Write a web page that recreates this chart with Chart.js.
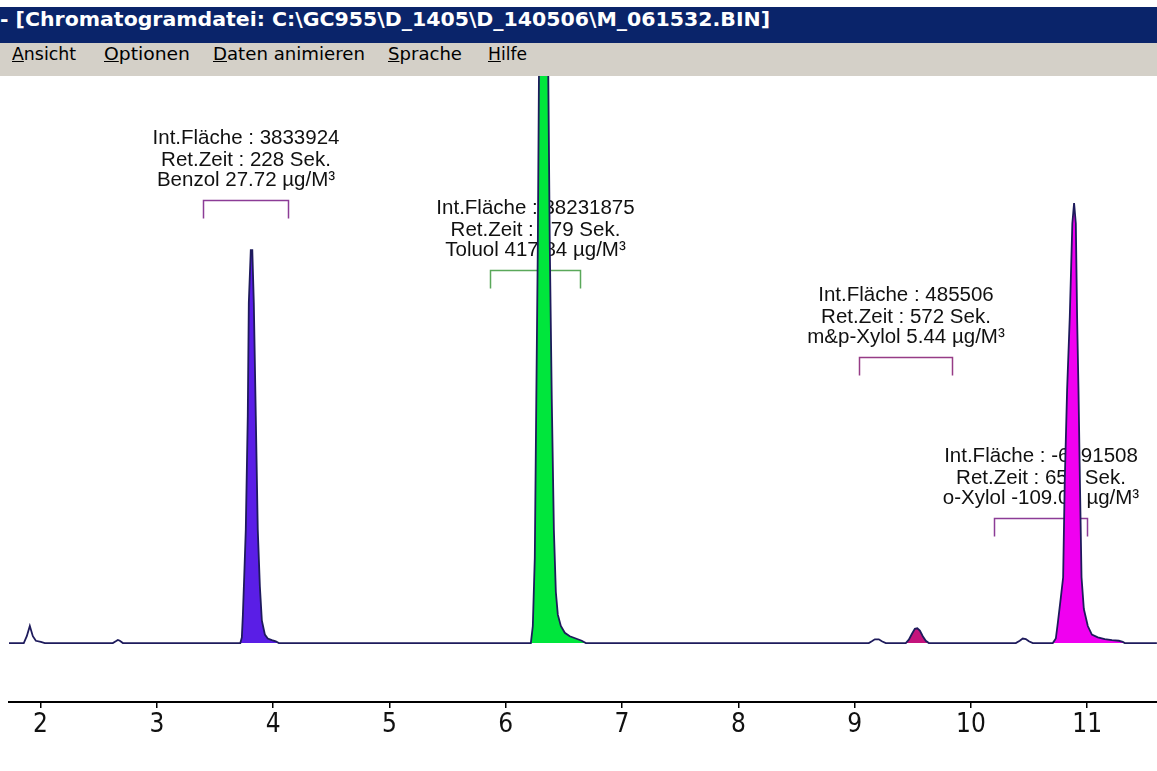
<!DOCTYPE html>
<html><head><meta charset="utf-8">
<script src="https://cdn.jsdelivr.net/npm/chart.js@4.4.1/dist/chart.umd.min.js"></script>
<style>
html,body{margin:0;padding:0;background:#fff;width:1157px;height:771px;overflow:hidden;position:relative}
#title{position:absolute;left:0;top:7px;width:1157px;height:36px;background:#0a246a}
#title span{position:absolute;left:0;top:0;line-height:36px;color:#fff;font:bold 20px 'DejaVu Sans',sans-serif;white-space:nowrap;transform-origin:0 50%}
#menu{position:absolute;left:0;top:43px;width:1157px;height:33px;background:#d4d0c8}
.mi{position:absolute;top:0;line-height:36px;font:18px 'DejaVu Sans',sans-serif;color:#000;white-space:nowrap;transform-origin:0 50%}
#wrap{position:absolute;left:0;top:76px;width:1157px;height:695px}
</style></head>
<body>
<div id="title"><span id="tt" data-w="770">- [Chromatogramdatei: C:\GC955\D_1405\D_140506\M_061532.BIN]</span></div>
<div id="menu">
<span class="mi" style="left:12px" data-w="64"><u>A</u>nsicht</span>
<span class="mi" style="left:104px" data-w="86"><u>O</u>ptionen</span>
<span class="mi" style="left:213px" data-w="152"><u>D</u>aten animieren</span>
<span class="mi" style="left:388px" data-w="74"><u>S</u>prache</span>
<span class="mi" style="left:488px" data-w="39"><u>H</u>ilfe</span>
</div>
<div id="wrap"><canvas id="c" width="1157" height="695"></canvas></div>
<script>
// ---- data ----
const tickLabels = [2, 3, 4, 5, 6, 7, 8, 9, 10, 11];
// retention time (min)
const traceTime = [
  1.729, 1.822, 1.856, 1.882, 1.908, 1.934, 1.960, 2.003, 2.037,
  2.622, 2.647, 2.665, 2.682, 2.708,
  3.718, 3.731, 3.740, 3.752, 3.765, 3.782, 3.791, 3.808, 3.821, 3.834, 3.851, 3.868, 3.886, 3.903, 3.929, 3.954, 3.989, 4.023, 4.049,
  6.216, 6.233, 6.250, 6.263, 6.276, 6.289, 6.302, 6.319, 6.336, 6.353, 6.366, 6.379, 6.396, 6.414, 6.431, 6.448, 6.474, 6.508, 6.551, 6.603, 6.654, 6.689,
  9.122, 9.148, 9.174, 9.208, 9.234, 9.268,
  9.440, 9.466, 9.492, 9.518, 9.539, 9.561, 9.586, 9.612, 9.638,
  10.386, 10.420, 10.446, 10.472, 10.498, 10.532,
  10.704, 10.730, 10.747, 10.773, 10.793, 10.807, 10.827, 10.850, 10.872, 10.887, 10.902, 10.913, 10.925, 10.937, 10.951, 10.971, 11.005, 11.040, 11.091, 11.151, 11.212, 11.272, 11.306, 11.323,
  11.599
];
// detector signal (mV)
const traceSignal = [
  0, 0, 0, 12, 30, 12, 4, 2, 0,
  0, 3, 5.5, 4, 0,
  0, 10, 50, 120, 200, 400, 600, 693, 693, 600, 400, 200, 100, 40, 15, 8, 5, 3, 0,
  0, 30, 150, 430, 700, 1100, 2200, 3000, 2400, 1500, 1000, 700, 430, 200, 90, 50, 30, 18, 12, 8, 4, 0,
  0, 3, 6.5, 6.5, 3, 0,
  0, 6, 16, 25, 26, 22, 12, 4, 0,
  0, 4, 8, 7, 3, 0,
  0, 8, 35, 80, 116, 287, 446, 575, 740, 776, 740, 575, 446, 287, 116, 60, 30, 15, 10, 7, 5, 4, 2, 0,
  0
];
const peakNames = ['Benzol', 'Toluol', 'm&p-Xylol', 'o-Xylol'];
const peakArea = ['3833924', '38231875', '485506', '-6991508'];
const peakRetSec = [228, 379, 572, 653];
const peakConc = ['27.72', '417.84', '5.44', '-109.07'];
const fillStart = [3.718, 6.216, 9.440, 10.704];
const fillEnd = [4.049, 6.689, 9.638, 11.323];
const windowStart = [3.396, 5.863, 9.036, 10.197];
const windowEnd = [4.126, 6.637, 9.836, 10.997];
const labelLevel = [781, 658, 504, 220];

// ---- styles ----
const fillColors = ['#5a1ee6', '#00e63c', '#c4147c', '#f000f0'];
const bracketColors = ['#8c3c96', '#5aa85a', '#963c86', '#8c3c96'];

// fit header texts
document.querySelectorAll('[data-w]').forEach(el => {
  const w = el.getBoundingClientRect().width;
  el.style.transform = 'scaleX(' + (parseFloat(el.dataset.w) / w) + ')';
});

const tracePts = traceTime.map((t, i) => ({x: t, y: traceSignal[i]}));
const datasets = [{
  data: tracePts, borderColor: '#1e1b5c', borderWidth: 1.8, pointRadius: 0,
  tension: 0, fill: false, order: 0
}];
peakNames.forEach((n, i) => {
  datasets.push({
    data: tracePts.filter(p => p.x >= fillStart[i] && p.x <= fillEnd[i]),
    borderWidth: 0, borderColor: 'rgba(0,0,0,0)', backgroundColor: fillColors[i],
    pointRadius: 0, tension: 0, fill: 'origin', order: 1
  });
});

const labels = {
  id: 'peakLabels',
  beforeDatasetsDraw(chart) {
    const {ctx, scales: {x, y}} = chart;
    ctx.save();
    peakNames.forEach((n, i) => {
      const xs = Math.round(x.getPixelForValue(windowStart[i])) + 0.5;
      const xe = Math.round(x.getPixelForValue(windowEnd[i])) + 0.5;
      const yb = Math.round(y.getPixelForValue(labelLevel[i])) + 0.5;
      ctx.strokeStyle = bracketColors[i];
      ctx.lineWidth = 1.5;
      ctx.beginPath();
      ctx.moveTo(xs, yb + 18); ctx.lineTo(xs, yb); ctx.lineTo(xe, yb); ctx.lineTo(xe, yb + 18);
      ctx.stroke();
      const cx = (xs + xe) / 2;
      ctx.fillStyle = '#111';
      ctx.font = "20.5px 'Liberation Sans', Arial, sans-serif";
      ctx.textAlign = 'center';
      ctx.textBaseline = 'middle';
      ctx.fillText('Int.Fläche : ' + peakArea[i], cx, yb - 62);
      ctx.fillText('Ret.Zeit : ' + peakRetSec[i] + ' Sek.', cx, yb - 40.5);
      ctx.fillText(n + ' ' + peakConc[i] + ' µg/M³', cx, yb - 20);
    });
    ctx.restore();
  }
};

new Chart(document.getElementById('c'), {
  type: 'line',
  data: {datasets},
  plugins: [labels],
  options: {
    responsive: false, animation: false,
    layout: {padding: {left: 9, right: 0, top: 0, bottom: 0}},
    plugins: {legend: {display: false}, tooltip: {enabled: false}},
    scales: {
      x: {
        type: 'linear', min: 1.729, max: 11.6,
        afterBuildTicks: s => { s.ticks = tickLabels.map(v => ({value: v})); },
        afterFit: s => { s.height = 69; },
        border: {display: true, color: '#000', width: 2},
        grid: {display: true, drawOnChartArea: false, drawTicks: true, tickLength: 6, color: '#000', lineWidth: 1.5},
        ticks: {color: '#111', padding: 2, maxRotation: 0, autoSkip: false,
          font: {family: "'Liberation Sans Narrow', 'DejaVu Sans Condensed', sans-serif", size: 26}}
      },
      y: {display: false, min: -104, max: 1000}
    }
  }
});
</script>
</body></html>
